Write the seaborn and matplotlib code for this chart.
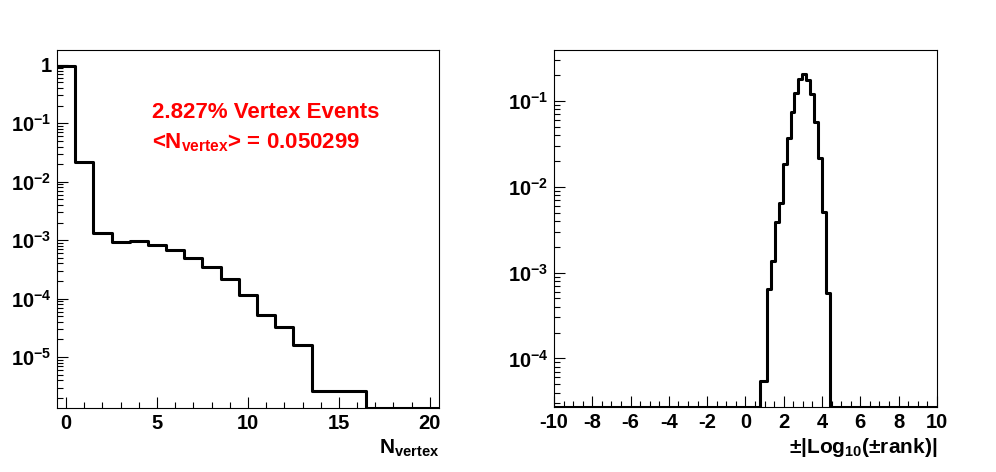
import numpy as np
import pandas as pd
import matplotlib
matplotlib.use("Agg")
import matplotlib.pyplot as plt
import seaborn as sns
from matplotlib.ticker import LogLocator, NullFormatter, MultipleLocator

# left panel: fraction of events per number of vertices
nvtx_edges = np.arange(-0.5, 21.0, 1.0)
nvtx_frac = [0.9717, 0.0222, 1.35e-3, 9.4e-4, 9.8e-4, 8.4e-4, 6.9e-4, 4.95e-4,
             3.5e-4, 2.2e-4, 1.15e-4, 5.2e-5, 3.2e-5, 1.63e-5, 2.65e-6, 2.65e-6,
             2.65e-6, 0, 0, 0, 0]
left_ylim = (1.34e-6, 1.8)
left_yticks = [1, 1e-1, 1e-2, 1e-3, 1e-4, 1e-5]
left_ylabels = ["1", "$10^{-1}$", "$10^{-2}$", "$10^{-3}$", "$10^{-4}$", "$10^{-5}$"]

# right panel: signed log10 rank
rank_edges = [-10, 0.74, 0.94, 1.14, 1.34, 1.55, 1.76, 1.96, 2.17, 2.36, 2.56,
              2.77, 2.97, 3.17, 3.38, 3.58, 3.79, 4.00, 4.21, 4.41, 10]
rank_frac = [0, 5.4e-5, 5.4e-5, 6.4e-4, 1.38e-3, 3.9e-3, 6.5e-3, 1.86e-2, 3.73e-2,
             7.4e-2, 0.125, 0.18, 0.208, 0.177, 0.12, 0.057, 0.0219, 5.1e-3, 5.8e-4, 0]
right_ylim = (2.71e-5, 0.393)
right_yticks = [1e-1, 1e-2, 1e-3, 1e-4]
right_ylabels = ["$10^{-1}$", "$10^{-2}$", "$10^{-3}$", "$10^{-4}$"]

sns.set_style("white")
plt.rcParams["font.family"] = ["Liberation Sans", "DejaVu Sans"]
plt.rcParams["font.weight"] = "bold"
plt.rcParams["mathtext.fontset"] = "custom"
plt.rcParams["mathtext.rm"] = "Liberation Sans:bold"
plt.rcParams["mathtext.bf"] = "Liberation Sans:bold"
plt.rcParams["mathtext.it"] = "Liberation Sans:bold"
plt.rcParams["mathtext.default"] = "rm"
plt.rcParams["axes.unicode_minus"] = False
for k in ["text.color", "axes.labelcolor", "xtick.color", "ytick.color", "axes.edgecolor"]:
    plt.rcParams[k] = "black"

fig = plt.figure(figsize=(9.96, 4.72), dpi=100)
ax1 = fig.add_axes([0.0572, 0.1356, 0.3835, 0.7585])
ax2 = fig.add_axes([0.5562, 0.1377, 0.3845, 0.7560])


def draw_hist(ax, edges, vals, ylim):
    edges = [float(e) for e in edges]
    df = pd.DataFrame({
        "x": [(a + b) / 2 for a, b in zip(edges[:-1], edges[1:])],
        "w": [max(v, ylim[0]) for v in vals],
    })
    sns.histplot(data=df, x="x", weights="w", bins=edges, element="step",
                 fill=False, color="black", linewidth=2.2, ax=ax)
    ax.set_yscale("log")
    ax.set_ylim(*ylim)
    ax.set_xlim(edges[0], edges[-1])
    ax.set_ylabel("")
    ax.yaxis.set_minor_locator(LogLocator(base=10, subs=np.arange(2, 10)))
    ax.yaxis.set_minor_formatter(NullFormatter())
    ax.tick_params(which="both", direction="in", bottom=True, left=True,
                   top=False, right=False, width=0.8, color="black")
    ax.tick_params(which="major", length=8)
    ax.tick_params(which="minor", length=4.5)
    ax.tick_params(axis="x", labelsize=14.5, pad=4)
    ax.tick_params(axis="y", labelsize=14.5, pad=4)
    for s in ax.spines.values():
        s.set_linewidth(0.8)
        s.set_color("black")


draw_hist(ax1, nvtx_edges, nvtx_frac, left_ylim)
ax1.set_xlim(-0.5, 20.5)
ax1.set_xticks([0, 5, 10, 15, 20])
ax1.xaxis.set_minor_locator(MultipleLocator(1))
ax1.set_yticks(left_yticks, labels=left_ylabels)
ax1.set_xlabel(r"N$_{\mathrm{vertex}}$", fontsize=15, fontweight="bold", ha="right")
ax1.xaxis.set_label_coords(1.0, -0.082)
ax1.text(0.248, 0.811, "2.827% Vertex Events", color="red", fontsize=16,
         fontweight="bold", transform=ax1.transAxes, va="baseline")
ax1.text(0.248, 0.7254, r"<N$_{\mathrm{vertex}}$> = 0.050299", color="red",
         fontsize=16, fontweight="bold", transform=ax1.transAxes, va="baseline")

draw_hist(ax2, rank_edges, rank_frac, right_ylim)
ax2.set_xlim(-10, 10)
ax2.set_xticks(range(-10, 11, 2))
ax2.xaxis.set_minor_locator(MultipleLocator(0.5))
ax2.set_yticks(right_yticks, labels=right_ylabels)
ax2.set_xlabel(r"±|Log$_{10}$(±rank)|", fontsize=15, fontweight="bold", ha="right")
ax2.xaxis.set_label_coords(1.0, -0.082)

fig.savefig("out.png", dpi=100)
